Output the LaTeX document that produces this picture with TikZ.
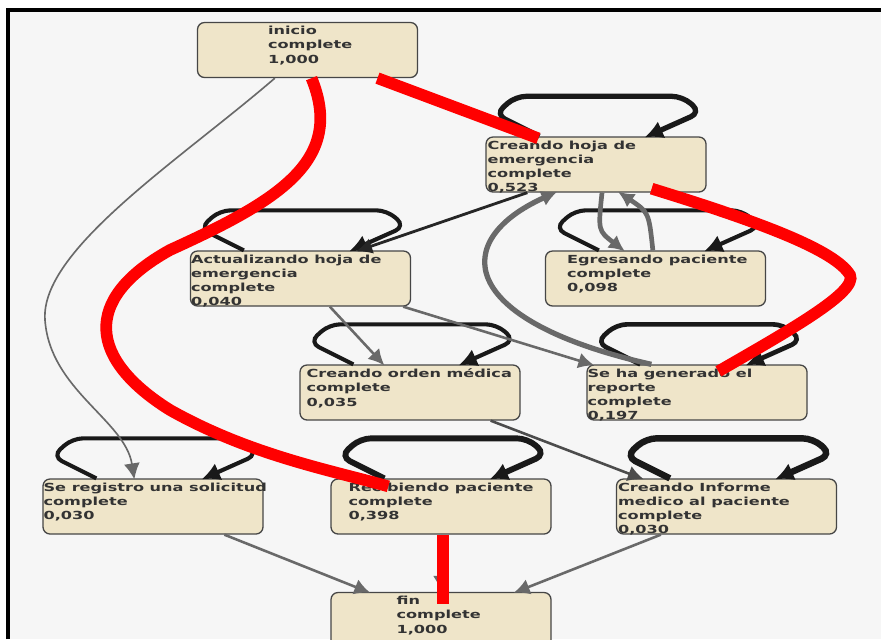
\documentclass[tikz,border=0pt]{standalone}
\usepackage{fontspec}
\usepackage{tikz}
\usetikzlibrary{arrows.meta, calc}
\newfontfamily\estadofont{DejaVu Sans}[FakeStretch=1.45]
\definecolor{fondo}{RGB}{246,246,246}
\definecolor{estadofill}{RGB}{239,229,201}
\definecolor{estadoborde}{RGB}{70,70,70}
\definecolor{grisflecha}{RGB}{105,105,105}
\definecolor{rojotraza}{RGB}{255,0,0}
\newcommand{\autolazo}[2][]{%
  \draw[selfloop,#1] ($(#2.north west)+(54,0)$) -- ($(#2.north west)+(10,-22)$)
    -- ($(#2.north west)+(30,-40)$) -- ($(#2.north east)+(-24,-40)$)
    -- ($(#2.north east)+(-6,-24)$) -- ($(#2.north east)+(-62,1)$);}

\begin{document}
\begin{tikzpicture}[x=0.03cm, y=-0.03cm,
    estado/.style={draw=estadoborde, line width=1.1pt, fill=estadofill, rounded corners=6pt, minimum width=6.6cm, minimum height=1.65cm, inner sep=0},
    etiq/.style={anchor=north west, inner sep=0, align=left, text=black!80, font=\estadofont\bfseries\fontsize{9.5}{12.2}\selectfont},
    selfloop/.style={draw=black!90, line width=3.5pt, rounded corners=9pt, -{Latex[length=5.5mm, width=5.5mm]}},
    gris/.style={draw=grisflecha, line width=2.2pt, -{Latex[length=4.8mm, width=4.8mm]}},
    rojo/.style={draw=rojotraza, line width=10pt}]
  \useasboundingbox (0,0) rectangle (881,639);
  \fill[white] (0,0) rectangle (881,639);
  \fill[fondo] (8,10) rectangle (881,639);
  \draw[black, line width=2.6pt] (8,639) -- (8,10) -- (881,10);
  \clip (0,0) rectangle (881,639);

  % estados
  \node[estado] (inicio) at (307.5,50) {};
  \node[estado] (hoja)   at (596,164.5) {};
  \node[estado] (act)    at (300.5,278.5) {};
  \node[estado] (egr)    at (655.5,278.5) {};
  \node[estado] (orden)  at (410,392.5) {};
  \node[estado] (rep)    at (697,392.5) {};
  \node[estado] (sol)    at (153,506.5) {};
  \node[estado] (rec)    at (441,506.5) {};
  \node[estado] (inf)    at (726.5,506.5) {};
  \node[estado] (fin)    at (441,620) {};

  \node[etiq] (inicio-txt) at ($(inicio.north west)+(71,4)$) {inicio\\complete\\1,000};
  \node[etiq] (hoja-txt)   at ($(hoja.north west)+(2,4)$) {Creando hoja de\\emergencia\\complete\\0,523};
  \node[etiq] (act-txt)    at ($(act.north west)+(1,4)$) {Actualizando hoja de\\emergencia\\complete\\0,040};
  \node[etiq] (egr-txt)    at ($(egr.north west)+(22,4)$) {Egresando paciente\\complete\\0,098};
  \node[etiq] (orden-txt)  at ($(orden.north west)+(7,4)$) {Creando orden médica\\complete\\0,035};
  \node[etiq] (rep-txt)    at ($(rep.north west)+(1,4)$) {Se ha generado el\\reporte\\complete\\0,197};
  \node[etiq] (sol-txt)    at ($(sol.north west)+(1,4)$) {Se registro una solicitud\\complete\\0,030};
  \node[etiq] (rec-txt)    at ($(rec.north west)+(18,4)$) {Recibiendo paciente\\complete\\0,398};
  \node[etiq] (inf-txt)    at ($(inf.north west)+(2,4)$) {Creando Informe\\medico al paciente\\complete\\0,030};
  \node[etiq] (fin-txt)    at ($(fin.north west)+(66,4)$) {fin\\complete\\1,000};

  % lazos
  \autolazo[line width=4.5pt]{hoja}
  \autolazo{act}
  \autolazo{egr}
  \autolazo{orden}
  \autolazo[line width=4pt]{rep}
  \autolazo{sol}
  \autolazo[line width=5pt]{rec}
  \autolazo[line width=5.5pt]{inf}

  % transiciones
  \draw[gris, line width=1.4pt] ($(inicio.south west)+(78,0)$) .. controls (180,160) and (40,250) .. (45,320)
    .. controls (50,390) and (125,420) .. ($(sol.north west)+(92,1)$);
  \draw[gris, draw=black!85, line width=2.4pt] ($(hoja.south west)+(42,0)$) -- ($(act.north east)+(-55,1)$);
  \draw[gris] ($(act.south west)+(140,0)$) -- ($(orden.north west)+(85,1)$);
  \draw[gris] ($(act.south east)+(-8,0)$) -- ($(rep.north west)+(8,1)$);
  \draw[gris, line width=4pt] ($(hoja.south)+(6,0)$) .. controls ($(hoja.south)+(2,38)$) .. ($(egr.north west)+(80,1)$);
  \draw[gris, line width=4pt] ($(egr.north west)+(108,0)$) .. controls ($(egr.north west)+(104,-38)$) .. ($(hoja.south)+(22,-1)$);
  \draw[gris, line width=4.5pt] ($(rep.north west)+(65,0)$) .. controls (455,320) and (450,240) .. ($(hoja.south west)+(72,-1)$);
  \draw[gris, draw=black!70] ($(orden.south east)+(-30,0)$) -- ($(inf.north west)+(28,1)$);
  \draw[gris] ($(sol.south west)+(182,0)$) -- ($(fin.north west)+(40,1)$);
  \draw[gris] ($(inf.south west)+(45,0)$) -- ($(fin.north east)+(-38,1)$);
  \draw[gris] (rec.south) -- (fin.north);

  % camino resaltado
  \draw[rojo] ($(inicio.south)+(70,0)$) -- ($(hoja.north west)+(53,2)$);
  \draw[rojo] ($(inicio.south)+(4,0)$) .. controls (345,160) and (280,200) .. (170,250)
    .. controls (80,300) and (90,360) .. (170,410) .. controls (250,455) and (330,470) .. ($(rec.north west)+(58,8)$);
  \draw[rojo] ($(hoja.south east)+(-55,-4)$) .. controls (760,222) and (835,250) .. (850,275)
    .. controls (858,292) and (790,330) .. ($(rep.north west)+(132,7)$);
  \draw[rojo, line width=11pt] ($(rec.south)+(2,0)$) -- ($(fin.north)+(2,12)$);
\end{tikzpicture}
\end{document}
